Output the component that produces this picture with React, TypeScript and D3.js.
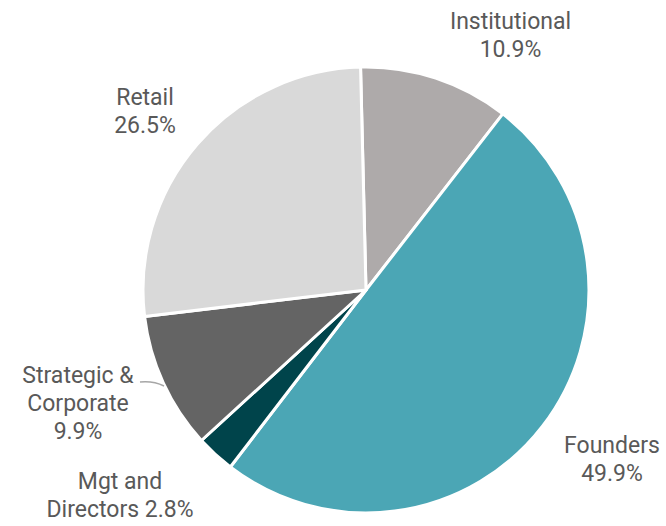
import React from "react";
import * as d3 from "d3";

const categories = ["Institutional", "Founders", "Mgt and Directors", "Strategic & Corporate", "Retail"];
const values = [10.9, 49.9, 2.8, 9.9, 26.5];
const colors = ["#aeaaaa", "#4ba6b5", "#00444b", "#646464", "#d9d9d9"];
const labelLines = [
  ["Institutional", "10.9%"],
  ["Founders", "49.9%"],
  ["Mgt and", "Directors 2.8%"],
  ["Strategic &", "Corporate", "9.9%"],
  ["Retail", "26.5%"],
];

const W = 666;
const H = 526;
const cx = 366;
const cy = 290;
const R = 223;
const startRad = (-1.4 * Math.PI) / 180;

// label anchor: first baseline position relative to center
const labelPos: [number, number][] = [
  [144.5, -261],
  [246, 163],
  [-246, 199],
  [-288, 93],
  [-221, -185],
];

export default function App() {
  const pie = d3
    .pie<number>()
    .sort(null)
    .value((d) => d)
    .startAngle(startRad)
    .endAngle(startRad + 2 * Math.PI);
  const arcs = pie(values);
  const arcGen = d3.arc<d3.PieArcDatum<number>>().innerRadius(0).outerRadius(R);
  const lh = 28;

  return (
    <svg width={W} height={H} style={{ position: "absolute", left: 0, top: 0 }}>
      <g transform={`translate(${cx},${cy})`}>
        {arcs.map((a, i) => (
          <path key={i} d={arcGen(a) || ""} fill={colors[i]} stroke="#ffffff" strokeWidth={3} strokeLinejoin="round" />
        ))}
        <path
          d={`M${140 - cx},${382 - cy} C${150 - cx},${381 - cy} ${156 - cx},${382 - cy} ${164 - cx},${386 - cy}`}
          fill="none"
          stroke="#a6a6a6"
          strokeWidth={1.5}
        />
        {labelLines.map((lines, i) => (
          <text
            key={i}
            x={labelPos[i][0]}
            y={labelPos[i][1]}
            textAnchor="middle"
            fontFamily="Roboto"
            fontSize={23}
            fill="#595959"
          >
            {lines.map((l, j) => (
              <tspan key={j} x={labelPos[i][0]} dy={j === 0 ? 0 : lh}>
                {l}
              </tspan>
            ))}
          </text>
        ))}
      </g>
    </svg>
  );
}
